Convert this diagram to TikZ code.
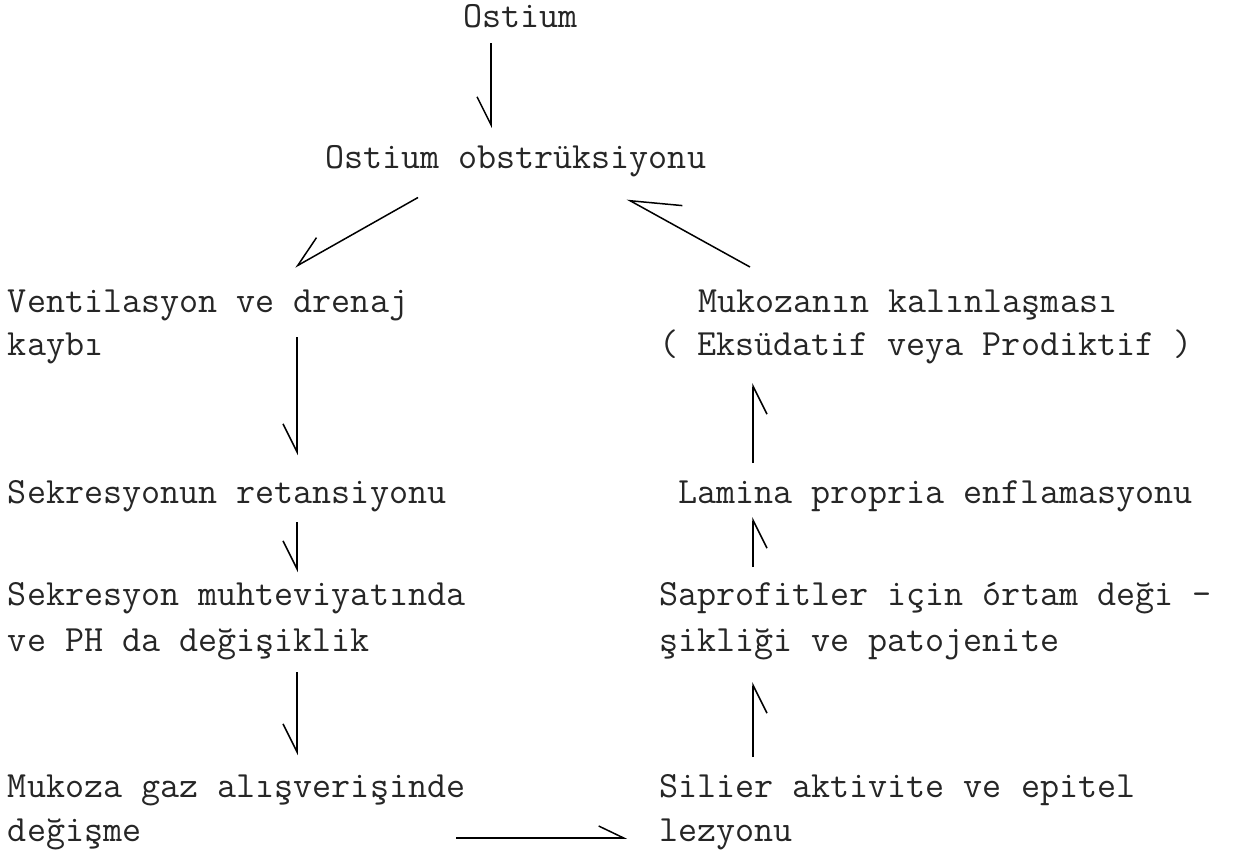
\documentclass[tikz,border=0pt]{standalone}
\usepackage{fontspec}
\usetikzlibrary{arrows.meta,calc}
\begin{document}
\begin{tikzpicture}[x=0.5pt,y=-0.5pt,
  txt/.style={anchor=base west,inner sep=0pt,outer sep=0pt,text height=10.25pt,text depth=3.25pt,font={\ttfamily\fontsize{18.5pt}{22pt}\selectfont},text=black!85},
  conn/.style={line width=0.75pt,draw=black},
  arr/.style={conn,-{Straight Barb[harpoon,swap,length=14pt,width=14pt,line width=0.75pt]}},
  arrD/.style={conn,-{Straight Barb[harpoon,swap,length=15pt,width=15pt,line width=0.75pt]}},
  arrW/.style={conn,-{Straight Barb[harpoon,swap,length=24pt,width=21pt,line width=0.75pt]}},
  arrH/.style={conn,-{Straight Barb[harpoon,length=12.5pt,width=12pt,line width=0.75pt]}}
]
\fill[white] (0,0) rectangle (1253,858);
\useasboundingbox (0,0) rectangle (1253,858);

% text nodes
\node[txt] (ost)  at (463,27)  {Ostium};
\node[txt] (obs)  at (325,168) {Ostium obstrüksiyonu};
\node[txt] (vent) at (8,312)   {Ventilasyon ve drenaj};
\node[txt] (kay)  at (8,355)   {kaybı};
\node[txt] (sek)  at (8,503)   {Sekresyonun retansiyonu};
\node[txt] (muh)  at (8,605)   {Sekresyon muhteviyatında};
\node[txt] (ph)   at (8,651)   {ve PH da değişiklik};
\node[txt] (gaz)  at (8,797)   {Mukoza gaz alışverişinde};
\node[txt] (degm) at (8,841)   {değişme};
\node[txt] (muk)  at (698,312) {Mukozanın kalınlaşması};
\node[txt] (eks)  at (659,355) {( Eksüdatif veya Prodiktif )};
\node[txt] (lam)  at (678,503) {Lamina propria enflamasyonu};
\node[txt] (sap)  at (659,605) {Saprofitler için órtam deği -};
\node[txt] (sik)  at (659,651) {şikliği ve patojenite};
\node[txt] (sil)  at (659,797) {Silier aktivite ve epitel};
\node[txt] (lez)  at (659,841) {lezyonu};

% arrow columns
\coordinate (cA) at (491,0);
\coordinate (cL) at (297,0);
\coordinate (cR) at (753,0);

% top arrow
\draw[arr,shorten <=4.75pt,shorten >=9.75pt] (ost.south -| cA) -- (obs.north -| cA);
% diagonals
\draw[arrD] ($(obs.south west)+(93,23)$) -- ($(vent.north west)+(287,-24.5)$);
\draw[arrW] ($(muk.north west)+(52,-24.5)$) -- ($(obs.south west)+(302,24.5)$);
% left column
\draw[arr,shorten <=1.25pt,shorten >=13.75pt] (kay.north -| cL) -- (sek.north -| cL);
\draw[arr,shorten <=6.25pt,shorten >=6.25pt] (sek.south -| cL) -- (muh.north -| cL);
\draw[arr,shorten <=7.25pt,shorten >=10.75pt] (ph.south -| cL) -- (gaz.north -| cL);
% right column
\draw[arr,shorten <=9.75pt,shorten >=12.25pt] (sil.north -| cR) -- (sik.south -| cR);
\draw[arr,shorten <=8.75pt,shorten >=3.75pt] (sap.north -| cR) -- (lam.south -| cR);
\draw[arr,shorten <=9.75pt,shorten >=10.75pt] (lam.north -| cR) -- (eks.south -| cR);
% bottom arrow
\draw[arrH] ([xshift=224pt,yshift=1.5pt]degm.base west) -- ([xshift=-16pt,yshift=1.5pt]lez.base west);
\end{tikzpicture}
\end{document}
